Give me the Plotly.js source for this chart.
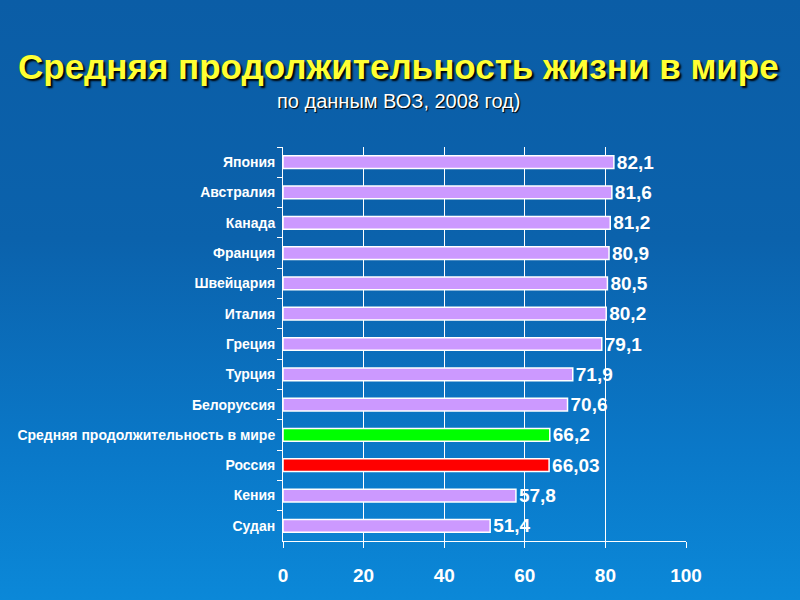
<!DOCTYPE html>
<html>
<head>
<meta charset="utf-8">
<script src="https://cdn.plot.ly/plotly-3.0.1.min.js"></script>
<style>
html,body{margin:0;padding:0;width:800px;height:600px;overflow:hidden;
background:linear-gradient(180deg,#0b5da6 0%,#0b62ac 40%,#0a78c8 75%,#0b88d8 100%);}
#chart{width:800px;height:600px;}
</style>
</head>
<body>
<div id="chart"></div>
<script>
var countries = ["Япония","Австралия","Канада","Франция","Швейцария","Италия","Греция","Турция","Белоруссия","Средняя продолжительность в мире","Россия","Кения","Судан"];
var lifeExpectancy = [82.1,81.6,81.2,80.9,80.5,80.2,79.1,71.9,70.6,66.2,66.03,57.8,51.4];
var valueLabels = ["82,1","81,6","81,2","80,9","80,5","80,2","79,1","71,9","70,6","66,2","66,03","57,8","51,4"];
var barColors = ["#cc99ff","#cc99ff","#cc99ff","#cc99ff","#cc99ff","#cc99ff","#cc99ff","#cc99ff","#cc99ff","#00ff00","#ff0000","#cc99ff","#cc99ff"];
var xTicks = [0,20,40,60,80,100];

var trace = {
  type:"bar", orientation:"h",
  y: countries, x: lifeExpectancy,
  text: valueLabels, texttemplate:"%{text}",
  textposition:"outside", cliponaxis:false, constraintext:"none",
  textfont:{family:"Liberation Sans, Arial", size:19, color:"#ffffff", weight:"bold"},
  marker:{color:barColors, line:{color:"#ffffff", width:1.5}},
  hoverinfo:"none"
};

var layout = {
  width:800, height:600,
  paper_bgcolor:"rgba(0,0,0,0)", plot_bgcolor:"rgba(0,0,0,0)",
  margin:{l:283, r:114, t:147, b:59},
  showlegend:false,
  bargap:0.58,
  xaxis:{range:[0,100], tickvals:xTicks, ticktext:xTicks.map(String),
    showgrid:true, gridcolor:"#ffffff", gridwidth:1,
    showline:true, linecolor:"#ffffff", linewidth:1, mirror:false,
    ticks:"outside", ticklen:6, tickcolor:"#ffffff",
    zeroline:false, fixedrange:true,
    tickfont:{family:"Liberation Sans, Arial", size:19, color:"#ffffff", weight:"bold"},
    ticklabelstandoff:11},
  yaxis:{autorange:"reversed", type:"category",
    showline:true, linecolor:"#ffffff", linewidth:1,
    ticks:"outside", tickson:"boundaries", ticklen:5, tickcolor:"#ffffff",
    showgrid:false, fixedrange:true,
    tickfont:{family:"Liberation Sans, Arial", size:14, color:"#ffffff", weight:"bold"},
    ticklabelstandoff:4},
  annotations:[
    {text:"Средняя продолжительность жизни в мире", xref:"paper", yref:"paper",
     x:0.5, y:0, xanchor:"center", yanchor:"middle", showarrow:false,
     font:{family:"Liberation Sans, Arial", size:35, color:"#ffff33", weight:"bold", shadow:"2px 2px 2px #000000"}},
    {text:"по данным ВОЗ, 2008 год)", xref:"paper", yref:"paper",
     x:0.5, y:0, xanchor:"center", yanchor:"middle", showarrow:false,
     font:{family:"Liberation Sans, Arial", size:20, color:"#ffffff", shadow:"1px 1px 1px #000000"}}
  ]
};
var plotH = 600 - 147 - 59;
var plotW = 800 - 283 - 114;
layout.annotations[0].x = (398-283)/plotW;
layout.annotations[0].y = (600-59-66)/plotH;
layout.annotations[1].x = (398-283)/plotW;
layout.annotations[1].y = (600-59-101)/plotH;

Plotly.newPlot("chart",[trace],layout,{displayModeBar:false, staticPlot:true});
</script>
</body>
</html>
